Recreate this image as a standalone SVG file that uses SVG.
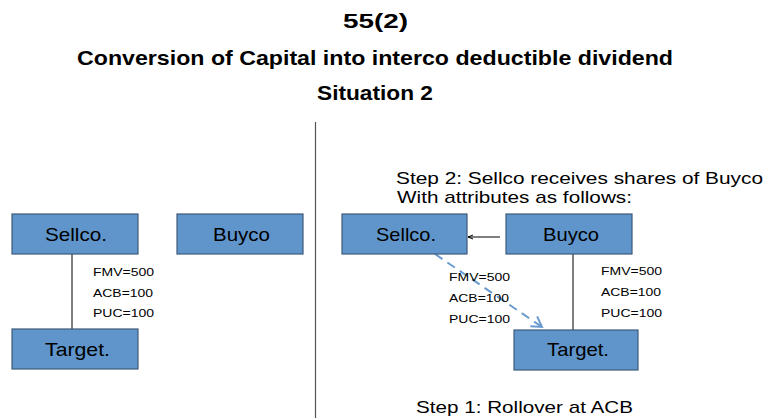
<svg xmlns="http://www.w3.org/2000/svg" width="765" height="418" viewBox="0 0 765 418">
<defs>
<style>
.t{font-family:"Liberation Sans",Arial,sans-serif;fill:#000}
.h{font-weight:bold;text-anchor:middle;font-size:21px}
.box{fill:#5f95cb;stroke:#3d5a78;stroke-width:1.2}
.bl{font-size:19px;text-anchor:middle}
.attr{font-size:11.5px}
.step{font-size:17px}
.ln{stroke:#000;stroke-width:1;fill:none}
</style>
<marker id="ah" markerWidth="6" markerHeight="6" refX="5" refY="3" orient="auto" markerUnits="userSpaceOnUse">
<path d="M0,1 L5,3 L0,5" fill="none" stroke="#000" stroke-width="1"/>
</marker>
<marker id="dah" markerWidth="14" markerHeight="14" refX="11" refY="7" orient="auto" markerUnits="userSpaceOnUse">
<path d="M1,1 L11,7 L1,13" fill="none" stroke="#6a9bd0" stroke-width="2"/>
</marker>
</defs>
<rect width="765" height="418" fill="#fff"/>
<text class="t h" x="375.5" y="28" textLength="65" lengthAdjust="spacingAndGlyphs">55(2)</text>
<text class="t h" x="375" y="65" textLength="596" lengthAdjust="spacingAndGlyphs">Conversion of Capital into interco deductible dividend</text>
<text class="t h" x="375" y="100" textLength="116" lengthAdjust="spacingAndGlyphs">Situation 2</text>
<line x1="315.5" y1="122" x2="315.5" y2="418" stroke="#555" stroke-width="1.2"/>
<g id="connectors">
<line class="ln" x1="72" y1="254" x2="72" y2="329"/>
<line class="ln" x1="573" y1="254" x2="573" y2="330"/>
<line class="ln" x1="500" y1="237" x2="468" y2="237" marker-end="url(#ah)"/>
<line x1="435" y1="254" x2="542" y2="327" stroke="#6a9bd0" stroke-width="2" stroke-dasharray="9,6" marker-end="url(#dah)"/>
</g>
<g id="sellco-left"><rect class="box" x="12" y="214" width="126" height="40"/><text class="t bl" x="76" y="241" textLength="62" lengthAdjust="spacingAndGlyphs">Sellco.</text></g>
<g id="buyco-left"><rect class="box" x="177" y="214" width="126" height="40"/><text class="t bl" x="241.5" y="241" textLength="57" lengthAdjust="spacingAndGlyphs">Buyco</text></g>
<g id="target-left"><rect class="box" x="12" y="329" width="126" height="40"/><text class="t bl" x="77.5" y="356" textLength="65" lengthAdjust="spacingAndGlyphs">Target.</text></g>
<g id="attrs-left" class="t attr">
<text x="93" y="276" textLength="61" lengthAdjust="spacingAndGlyphs">FMV=500</text>
<text x="93" y="297" textLength="60" lengthAdjust="spacingAndGlyphs">ACB=100</text>
<text x="93" y="317" textLength="61" lengthAdjust="spacingAndGlyphs">PUC=100</text>
</g>
<g id="sellco-right"><rect class="box" x="342" y="214" width="125" height="40"/><text class="t bl" x="406" y="241" textLength="60" lengthAdjust="spacingAndGlyphs">Sellco.</text></g>
<g id="buyco-right"><rect class="box" x="506" y="214" width="126" height="40"/><text class="t bl" x="571" y="241" textLength="56" lengthAdjust="spacingAndGlyphs">Buyco</text></g>
<g id="target-right"><rect class="box" x="514" y="330" width="124" height="40"/><text class="t bl" x="578" y="356" textLength="62" lengthAdjust="spacingAndGlyphs">Target.</text></g>
<g id="attrs-mid" class="t attr">
<text x="449" y="281" textLength="61" lengthAdjust="spacingAndGlyphs">FMV=500</text>
<text x="449" y="302" textLength="60" lengthAdjust="spacingAndGlyphs">ACB=100</text>
<text x="449" y="323" textLength="61" lengthAdjust="spacingAndGlyphs">PUC=100</text>
</g>
<g id="attrs-right" class="t attr">
<text x="601" y="275" textLength="61" lengthAdjust="spacingAndGlyphs">FMV=500</text>
<text x="601" y="296" textLength="60" lengthAdjust="spacingAndGlyphs">ACB=100</text>
<text x="601" y="317" textLength="61" lengthAdjust="spacingAndGlyphs">PUC=100</text>
</g>
<text class="t step" x="396" y="184" textLength="367" lengthAdjust="spacingAndGlyphs">Step 2: Sellco receives shares of Buyco</text>
<text class="t step" x="397" y="203" textLength="235" lengthAdjust="spacingAndGlyphs">With attributes as follows:</text>
<text class="t step" x="416" y="413" textLength="217" lengthAdjust="spacingAndGlyphs">Step 1: Rollover at ACB</text>
</svg>
